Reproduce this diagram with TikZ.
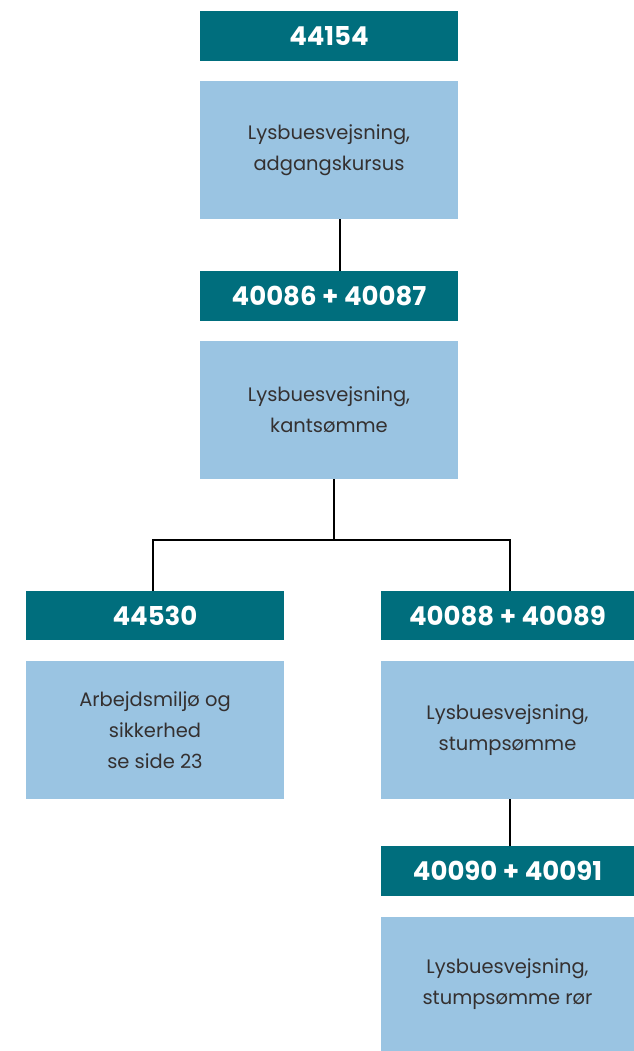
\documentclass[tikz,border=0pt]{standalone}
\usepackage{fontspec}
\setmainfont{Poppins}
\usepackage{tikz}
\usetikzlibrary{positioning}
\definecolor{kodeteal}{HTML}{006E7D}
\definecolor{kursblaa}{HTML}{9AC4E2}
\definecolor{tekstgraa}{HTML}{343030}

\begin{document}
\begin{tikzpicture}[x=0.75pt,y=-0.75pt,
	kode/.style={fill=kodeteal,text=white,font=\bfseries\fontsize{19.5}{22}\selectfont,
		minimum width=193.5pt,minimum height=37pt,inner sep=0pt},
	kursus/.style={fill=kursblaa,text=tekstgraa,font=\fontsize{14.6}{23.25}\selectfont,
		align=center,minimum width=193.5pt,minimum height=103.5pt,inner sep=0pt},
	streg/.style={line width=1.5pt,black}]
		\useasboundingbox (0,0) rectangle (634,1051);
		\path
		(329,36) node[kode](k1) {44154}
		(329,150) node[kursus](b1) {Lysbuesvejsning,\\adgangskursus}
		(329,296) node[kode](k2) {40086 + 40087}
		(329,410) node[kursus](b2) {Lysbuesvejsning,\\kantsømme}
		(155,615.5) node[kode](k3) {44530}
		(155,730) node[kursus](b3) {Arbejdsmiljø og\\sikkerhed\\se side 23}
		(507.5,615.5) node[kode,minimum width=189.75pt](k4) {40088 + 40089}
		(507.5,730) node[kursus,minimum width=189.75pt](b4) {Lysbuesvejsning,\\stumpsømme}
		(507.5,871) node[kode,minimum width=189.75pt](k5) {40090 + 40091}
		(507.5,984) node[kursus,minimum width=189.75pt,minimum height=100.5pt](b5) {Lysbuesvejsning,\\stumpsømme rør};
		\coordinate (gren) at (334,540);
		\draw[streg] ([xshift=8.25pt]b1.south) -- ([xshift=8.25pt]k2.north);
		\draw[streg] ([xshift=3.75pt]b2.south) -- (gren);
		\draw[streg] ([xshift=-1.5pt]k3.north) |- (gren) -| ([xshift=1.9pt]k4.north);
		\draw[streg] ([xshift=1.9pt]b4.south) -- ([xshift=1.9pt]k5.north);
	\end{tikzpicture}
\end{document}
